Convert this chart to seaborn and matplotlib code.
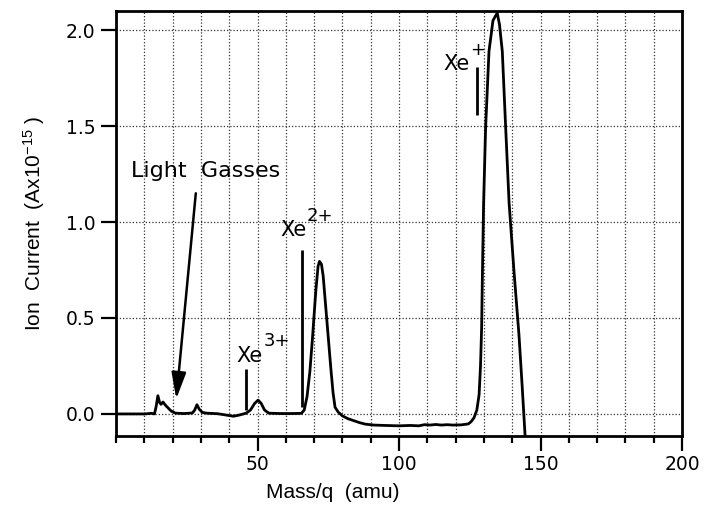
import matplotlib
matplotlib.use("Agg")
import matplotlib.pyplot as plt
import seaborn as sns
import pandas as pd
from matplotlib.ticker import MultipleLocator

# Mass spectrum of the ion beam: mass-to-charge (amu) vs. ion current (A x 1e-15)
mass_amu = [
    0, 5, 10, 12.5, 13.6, 14.2, 14.8, 15.4, 15.9, 16.6, 17.5, 18.5, 19.5, 21,
    24, 27, 27.8, 28.6, 29.4, 30.5, 32, 36, 39, 41.5, 43.5, 46, 47.5, 49,
    50.2, 51.3, 52.5, 54, 58, 62, 65.5, 66.5, 67.5, 68.5, 69.4, 70.6, 71.4,
    71.9, 72.6, 73.2, 74.1, 75.0, 75.9, 76.7, 77.4, 78.5, 80, 82, 84, 86, 88,
    91, 95, 100, 104, 107, 109, 111, 113, 115, 117, 119, 122, 124.5, 125.5,
    126.5, 127.5, 128.3, 128.8, 129.2, 129.5, 129.9, 130.6, 131.8, 133.2,
    134.7, 135.5, 136.5, 137.7, 138.9, 140.6, 142.4, 143.5, 144.6,
]
ion_current = [
    0.0, 0.0, 0.0, 0.003, 0.0, 0.04, 0.095, 0.06, 0.05, 0.062, 0.045, 0.03,
    0.015, 0.004, 0.002, 0.005, 0.02, 0.048, 0.025, 0.008, 0.004, 0.001,
    -0.006, -0.012, -0.006, 0.004, 0.02, 0.055, 0.072, 0.055, 0.02, 0.004,
    0.002, 0.002, 0.003, 0.02, 0.09, 0.22, 0.39, 0.64, 0.77, 0.795, 0.78,
    0.72, 0.56, 0.40, 0.24, 0.11, 0.035, 0.01, -0.01, -0.025, -0.035, -0.045,
    -0.053, -0.058, -0.06, -0.062, -0.06, -0.062, -0.056, -0.058, -0.055,
    -0.058, -0.056, -0.058, -0.057, -0.052, -0.04, -0.02, 0.02, 0.10, 0.25,
    0.45, 0.75, 1.10, 1.49, 1.89, 2.05, 2.09, 2.03, 1.89, 1.49, 1.10, 0.75,
    0.41, 0.15, -0.125,
]

# Charge-state markers (Xe3+, Xe2+, Xe+)
marker_mass = [45.8, 65.6, 127.7]
marker_low = [0.02, 0.035, 1.557]
marker_high = [0.235, 0.853, 1.81]

x_major_ticks = [50, 100, 150, 200]
y_ticks = [0.0, 0.5, 1.0, 1.5, 2.0]

sns.set_theme(style="white")
plt.rcParams["font.family"] = ["DejaVu Sans"]
plt.rcParams["mathtext.default"] = "regular"
plt.rcParams["text.color"] = "black"
plt.rcParams["axes.labelcolor"] = "black"
plt.rcParams["xtick.color"] = "black"
plt.rcParams["ytick.color"] = "black"
label_font = ["Liberation Sans", "DejaVu Sans"]

fig = plt.figure(figsize=(7.05, 5.12), dpi=100)
ax = fig.add_axes([116 / 705, 1 - 436 / 512, 566 / 705, 425 / 512])

spectrum = pd.DataFrame({"mass": mass_amu, "current": ion_current})
sns.lineplot(data=spectrum, x="mass", y="current", ax=ax, color="black",
             lw=2.0, sort=False, estimator=None)

ax.set_xlim(0, 200)
ax.set_ylim(-0.115, 2.10)

ax.set_xticks(x_major_ticks)
ax.set_xticklabels([str(t) for t in x_major_ticks])
ax.xaxis.set_minor_locator(MultipleLocator(10))
ax.set_yticks(y_ticks)
ax.set_yticklabels([f"{t:.1f}" for t in y_ticks])

grid_style = dict(ls=(0, (1, 1.6)), color="0.2", lw=0.9)
ax.grid(False)
ax.grid(True, axis="x", which="both", **grid_style)
ax.grid(True, axis="y", which="major", **grid_style)

for side in ax.spines.values():
    side.set_color("black")
    side.set_linewidth(2.0)

ax.tick_params(axis="y", direction="out", length=11, width=1.6,
               labelsize=13.5, pad=4, labelcolor="black", left=True)
ax.tick_params(axis="x", which="major", direction="out", length=11,
               width=1.6, labelsize=13.5, pad=3, labelcolor="black",
               bottom=True)
ax.tick_params(axis="x", which="minor", direction="out", length=5,
               width=1.6, bottom=True)

ax.set_xlabel("Mass/q  (amu)", fontsize=15, family=label_font, color="black")
ax.set_ylabel("Ion  Current  (Ax10$^{-15}$ )", fontsize=15,
              family=label_font, color="black")
ax.xaxis.set_label_coords((333 - 116) / 566, -0.11)
ax.yaxis.set_label_coords(-0.122, 0.50)

# Peak labels
ax.vlines(marker_mass, marker_low, marker_high, colors="black", lw=2.0)
ax.text(42.6, 0.273, "Xe", fontsize=15, ha="left", va="baseline")
ax.text(52.2, 0.356, "3+", fontsize=13, ha="left", va="baseline")
ax.text(58.0, 0.925, "Xe", fontsize=15, ha="left", va="baseline")
ax.text(67.4, 1.005, "2+", fontsize=13, ha="left", va="baseline")
ax.text(115.6, 1.79, "Xe", fontsize=15, ha="left", va="baseline")
ax.text(125.0, 1.87, "+", fontsize=13, ha="left", va="baseline")

ax.text(31.5, 1.234, "Light  Gasses", fontsize=16, ha="center", va="baseline")
ax.annotate("", xy=(21.3, 0.078), xytext=(28.2, 1.15),
            arrowprops=dict(arrowstyle="-|>,head_length=0.8,head_width=0.22",
                            lw=1.8, color="black", mutation_scale=20,
                            shrinkA=0, shrinkB=0))

fig.savefig("out.png", dpi=100)
